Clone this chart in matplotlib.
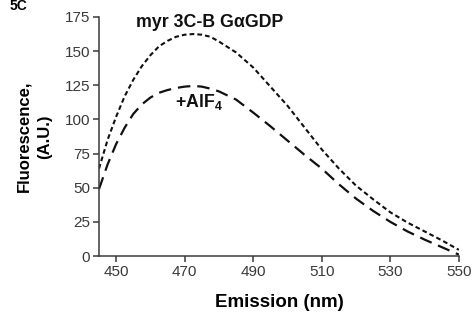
import matplotlib
matplotlib.use("Agg")
import matplotlib.pyplot as plt

# emission spectra (2.5 nm steps up to 480 nm, then 5 nm)
wavelength = [445, 447.5, 450, 452.5, 455, 457.5, 460, 462.5, 465, 467.5,
              470, 472.5, 475, 477.5, 480, 485, 490, 495, 500, 505, 510,
              515, 520, 525, 530, 535, 540, 545, 550]
gdp = [64, 85, 102, 117, 129, 139, 147, 153.5, 157.5, 160.5,
       162, 162.5, 162, 160.5, 157, 149, 138, 124, 110, 94, 78,
       64, 51.5, 41.5, 32, 24.5, 18, 11.5, 4.5]
alf4 = [49, 67, 82, 94, 104, 111, 116, 119.5, 121.5, 123,
        124, 124.5, 124, 122.5, 120.5, 114.5, 105, 95, 84.5, 74, 64,
        52.5, 42, 33, 25, 18, 12, 6.5, 1]

x_ticks = [450, 470, 490, 510, 530, 550]
y_ticks = [0, 25, 50, 75, 100, 125, 150, 175]

plt.rcParams["font.family"] = ["Liberation Sans", "DejaVu Sans"]
plt.rcParams["mathtext.fontset"] = "custom"
plt.rcParams["mathtext.rm"] = "Liberation Sans"
plt.rcParams["mathtext.bf"] = "Liberation Sans:bold"
plt.rcParams["lines.scale_dashes"] = False

grey = "#3a3a3a"

fig = plt.figure(figsize=(4.76, 3.2), dpi=100)
ax = fig.add_axes([0.208, 0.2, 0.756, 0.747])

ax.plot(wavelength, gdp, color="#111111", lw=1.5, ls=(0, (3.4, 2.2)))
ax.plot(wavelength, alf4, color="#111111", lw=1.6, ls=(0, (9, 5)))

ax.set_xlim(445, 550)
ax.set_ylim(0, 175)
ax.set_xticks(x_ticks)
ax.set_yticks(y_ticks)
for s in ("top", "right"):
    ax.spines[s].set_visible(False)
for s in ("left", "bottom"):
    ax.spines[s].set_color(grey)
    ax.spines[s].set_linewidth(1.1)
ax.tick_params(direction="out", length=4, width=1.1, color=grey,
               labelcolor=grey, labelsize=11, pad=2.5)

ax.set_xlabel("Emission (nm)", fontsize=13.5, fontweight="bold", labelpad=11)
ax.set_ylabel("Fluorescence,\n(A.U.)", fontsize=12, fontweight="bold",
              labelpad=9, linespacing=1.45)

ax.text(455.8, 167.5, "myr 3C-B G\u03b1GDP", fontsize=12.8,
        fontweight="bold", color="#111111", ha="left", va="baseline")
ax.text(467.2, 109, "+AlF$_\\mathbf{4}$", fontsize=12.8,
        fontweight="bold", color="#111111", ha="left", va="baseline")

# panel letter
fig.text(0.02, 1 - 10.5 / 320, "5C", fontsize=10, fontweight="bold",
         ha="left", va="baseline")

fig.savefig("out.png", dpi=100)
